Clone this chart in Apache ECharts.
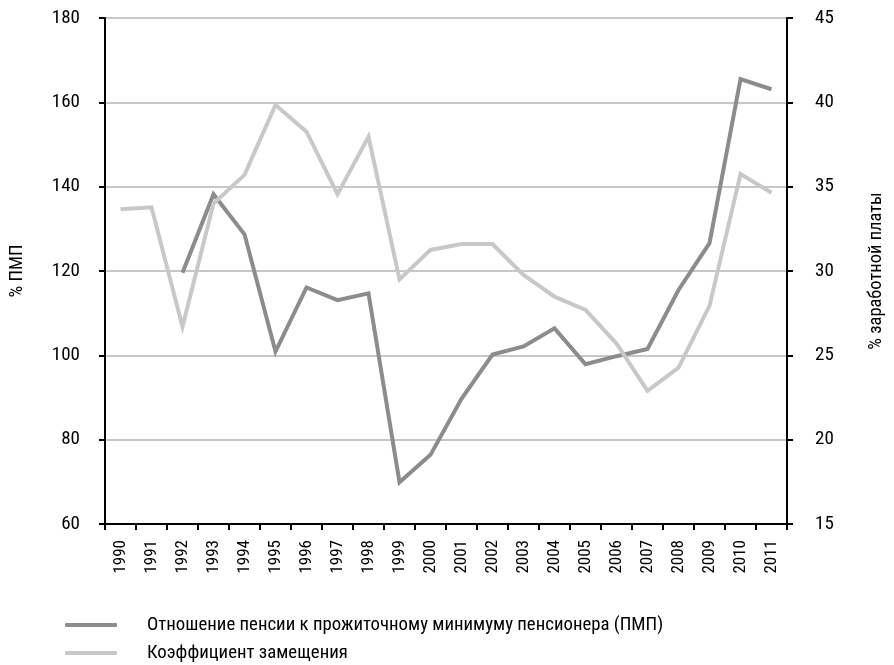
<!DOCTYPE html>
<html><head><meta charset="utf-8">
<script src="https://cdn.jsdelivr.net/npm/echarts@6/dist/echarts.min.js"></script>
<style>html,body{margin:0;padding:0;background:#fff}#c{width:894px;height:665px}</style>
</head><body><div id="c"></div>
<script>
var years = ['1990','1991','1992','1993','1994','1995','1996','1997','1998','1999','2000','2001','2002','2003','2004','2005','2006','2007','2008','2009','2010','2011'];
var pensionToMin = [null, null, 119.6, 138.2, 128.7, 100.9, 116.1, 113.1, 114.7, 69.9, 76.4, 89.7, 100.2, 102.1, 106.4, 97.9, 99.8, 101.5, 115.5, 126.6, 165.5, 163.1];
var replacementRate = [33.66, 33.78, 26.7, 34.0, 35.7, 39.84, 38.26, 34.55, 37.96, 29.5, 31.25, 31.6, 31.6, 29.77, 28.48, 27.69, 25.7, 22.9, 24.27, 27.93, 35.75, 34.64];
var seriesNames = ['Отношение пенсии к прожиточному минимуму пенсионера (ПМП)', 'Коэффициент замещения'];
var leftName = '% ПМП';
var rightName = '% заработной платы';

var FONT = '"Roboto Condensed", "Liberation Sans Narrow", sans-serif';
var chart = echarts.init(document.getElementById('c'));
var axisLine = {show: true, lineStyle: {color: '#000', width: 2}};
var axisTick = {show: true, length: 6, lineStyle: {color: '#000', width: 2}};
function legendAt(top, name) {
  return {
    orient: 'horizontal', left: 65, top: top, padding: 0,
    itemWidth: 52, itemHeight: 4, icon: 'roundRect',
    textStyle: {fontFamily: FONT, fontSize: 18.8, lineHeight: 20, color: '#000', padding: [0, 0, 0, 25]},
    data: [name]
  };
}
chart.setOption({
  animation: false,
  textStyle: {fontFamily: FONT, color: '#000'},
  grid: {left: 101, right: 100, top: 18, bottom: 141},
  legend: [legendAt(615, seriesNames[0]), legendAt(643, seriesNames[1])],
  xAxis: {
    type: 'category', data: years, boundaryGap: true,
    axisLine: axisLine, axisTick: axisTick,
    axisLabel: {rotate: 90, fontSize: 17, color: '#000', fontFamily: FONT, margin: 16, interval: 0}
  },
  yAxis: [{
    type: 'value', min: 60, max: 180, interval: 20, position: 'left',
    name: leftName, nameLocation: 'middle', nameRotate: 90, nameGap: 78,
    nameTextStyle: {fontSize: 18.5, color: '#000', fontFamily: FONT},
    axisLine: axisLine, axisTick: axisTick,
    axisLabel: {fontSize: 19, color: '#000', fontFamily: FONT, margin: 25},
    splitLine: {show: true, lineStyle: {color: '#b4b4b4', width: 1.5}}
  }, {
    type: 'value', min: 15, max: 45, interval: 5, position: 'right',
    name: rightName, nameLocation: 'middle', nameRotate: 90, nameGap: 80,
    nameTextStyle: {fontSize: 18.5, color: '#000', fontFamily: FONT},
    axisLine: axisLine, axisTick: axisTick,
    axisLabel: {fontSize: 19, color: '#000', fontFamily: FONT, margin: 28},
    splitLine: {show: false}
  }],
  series: [{
    name: seriesNames[0], type: 'line', yAxisIndex: 0, data: pensionToMin,
    symbol: 'none', color: '#8c8c8c',
    lineStyle: {width: 4, color: '#8c8c8c', join: 'miter'}
  }, {
    name: seriesNames[1], type: 'line', yAxisIndex: 1, data: replacementRate,
    symbol: 'none', color: '#c8c8c8',
    lineStyle: {width: 4, color: '#c8c8c8', join: 'miter'}
  }]
});
</script></body></html>
